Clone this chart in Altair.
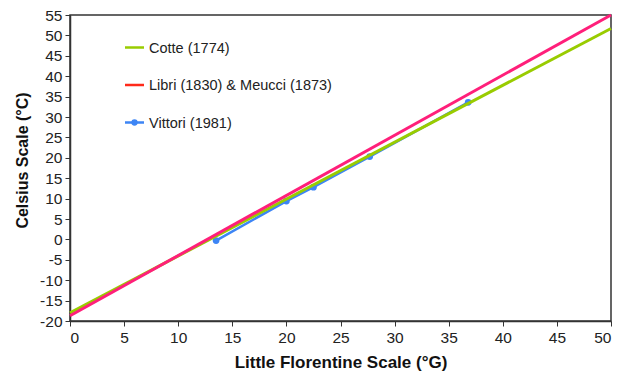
import altair as alt
import pandas as pd

# Temperature scale conversion lines (°G -> °C), given by their end points
cotte_g = [0, 50]
cotte_c = [-18.0, 51.7]
libri_g = [0, 50]
libri_c = [-18.7, 55.0]

# Vittori (1981) calibration points
vittori_g = [13.5, 20.0, 22.5, 27.7, 36.8]
vittori_c = [-0.3, 9.4, 12.8, 20.3, 33.6]

# Legend entries
legend_labels = ["Cotte (1774)", "Libri (1830) & Meucci (1873)", "Vittori (1981)"]
legend_colors = ["#99cc00", "#ff2a1a", "#3d85f5"]

GREEN = "#99cc00"
PINK = "#ff1f7a"
BLUE = "#3d85f5"

cotte = pd.DataFrame({"g": cotte_g, "c": cotte_c})
libri = pd.DataFrame({"g": libri_g, "c": libri_c})
vittori = pd.DataFrame({"g": vittori_g, "c": vittori_c})

plain_label = "replace(datum.label, '\u2212', '-')"

x_enc = alt.X(
    "g:Q",
    scale=alt.Scale(domain=[0, 50], nice=False, zero=False),
    axis=alt.Axis(
        title="Little Florentine Scale (°G)",
        values=list(range(0, 51, 5)),
        grid=False,
        tickSize=5,
        labelPadding=4,
        titlePadding=9,
        labelOverlap=False,
        labelExpr=plain_label,
        titleFontSize=17,
    ),
)
y_enc = alt.Y(
    "c:Q",
    scale=alt.Scale(domain=[-20, 55], nice=False, zero=False),
    axis=alt.Axis(
        title="Celsius Scale (°C)",
        values=list(range(-20, 56, 5)),
        grid=False,
        tickSize=5,
        labelPadding=3,
        titlePadding=9,
        labelOverlap=False,
        labelExpr=plain_label,
        titleY=145,
    ),
)

vittori_line = alt.Chart(vittori).mark_line(color=BLUE, strokeWidth=2.5).encode(x=x_enc, y=y_enc)
vittori_pts = alt.Chart(vittori).mark_point(
    filled=True, color=BLUE, size=45, opacity=1
).encode(x=x_enc, y=y_enc)
cotte_line = alt.Chart(cotte).mark_line(color=GREEN, strokeWidth=3).encode(x=x_enc, y=y_enc)
libri_line = alt.Chart(libri).mark_line(color=PINK, strokeWidth=3).encode(x=x_enc, y=y_enc)

# Hand-placed legend inside the plot area
legend_layers = []
for i, (label, color) in enumerate(zip(legend_labels, legend_colors)):
    ypix = 32.5 + i * 37.5
    legend_layers.append(
        alt.Chart(pd.DataFrame({"k": [0]})).mark_rule(color=color, strokeWidth=2.5).encode(
            x=alt.value(55), x2=alt.value(74), y=alt.value(ypix)
        )
    )
    legend_layers.append(
        alt.Chart(pd.DataFrame({"k": [0]})).mark_text(
            text=label, align="left", baseline="middle", fontSize=14.5,
            font="Liberation Sans", color="#222222"
        ).encode(x=alt.value(79), y=alt.value(ypix + 1))
    )
    if i == 2:
        legend_layers.append(
            alt.Chart(pd.DataFrame({"k": [0]})).mark_point(
                filled=True, color=color, size=40, opacity=1
            ).encode(x=alt.value(64.5), y=alt.value(ypix))
        )

chart = alt.layer(
    vittori_line, vittori_pts, cotte_line, libri_line, *legend_layers
).properties(
    width=541,
    height=306,
    autosize=alt.AutoSizeParams(type="none"),
    padding={"left": 70, "top": 15, "right": 14, "bottom": 57},
    background="white",
).configure_view(
    stroke="#333333", strokeWidth=1.5
).configure_axis(
    domainColor="#333333",
    domainWidth=1.5,
    tickColor="#333333",
    tickWidth=1,
    labelFont="Liberation Sans",
    labelFontSize=15.5,
    labelColor="#222222",
    titleFont="Liberation Sans",
    titleFontSize=16,
    titleFontWeight="bold",
    titleColor="#111111",
)

chart.save("out.html", embed_options={"renderer": "svg", "actions": False})
